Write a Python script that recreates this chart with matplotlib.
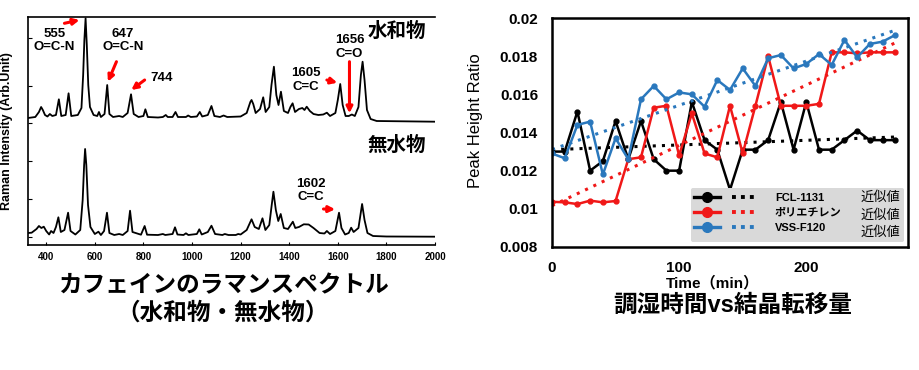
import numpy as np
import matplotlib.pyplot as plt
from matplotlib.lines import Line2D
from matplotlib.legend_handler import HandlerTuple

plt.rcParams['font.family'] = ['Liberation Sans', 'Noto Sans CJK JP', 'DejaVu Sans']

# Raman spectrum of caffeine hydrate (wavenumber / arb. intensity)
hyd_wn = [325, 355, 370, 379, 386, 395, 405, 415, 425, 440, 452, 462, 480, 492, 503, 530, 545,
          552, 557, 562, 567, 573, 580, 595, 610, 617, 625, 640, 651, 660, 675, 700, 715, 735,
          749, 760, 780, 800, 808, 818, 860, 880, 892, 900, 920, 932, 942, 975, 984, 995, 1020,
          1032, 1042, 1065, 1080, 1092, 1115, 1130, 1145, 1200, 1225, 1240, 1245, 1252, 1262,
          1280, 1293, 1303, 1318, 1327, 1337, 1347, 1356, 1366, 1378, 1395, 1405, 1414, 1424,
          1440, 1454, 1463, 1472, 1485, 1500, 1520, 1540, 1555, 1568, 1590, 1600, 1610, 1620,
          1632, 1645, 1658, 1670, 1685, 1695, 1702, 1710, 1720, 1735, 1760, 2000]
hyd_int = [127, 128, 133, 138, 135, 130, 128.5, 131, 129, 130, 145.7, 129, 130, 151.7, 129, 130,
           137, 170, 205, 226.7, 200, 160, 138, 130, 129, 133, 128, 131, 160, 131, 128, 129, 128,
           132, 150.7, 131, 128, 129, 135.7, 128, 127.5, 128, 130, 128, 128, 133, 128, 128,
           129.5, 128, 128.5, 133, 128.5, 130, 139, 129, 128, 129.5, 128, 128.5, 132, 143, 145,
           141, 132, 136, 147.7, 133, 138, 160, 178.3, 150, 140, 153.3, 134, 132, 138, 141.7,
           133, 136, 137, 135, 138.3, 134, 131, 130, 130.5, 132.3, 129, 132, 145, 161, 140, 129,
           129, 130.5, 129, 138, 170, 183.3, 165, 135, 126, 124, 123.3]

# Raman spectrum of anhydrous caffeine
anh_wn = [325, 340, 360, 370, 380, 390, 400, 412, 420, 430, 440, 450, 460, 475, 490, 500, 520,
          540, 550, 556, 560, 565, 572, 582, 600, 615, 625, 638, 650, 660, 680, 700, 715, 735,
          745, 755, 790, 805, 815, 860, 880, 890, 920, 930, 940, 965, 975, 985, 1020, 1030, 1040,
          1065, 1080, 1095, 1125, 1135, 1150, 1180, 1190, 1200, 1225, 1245, 1258, 1275, 1290,
          1302, 1318, 1328, 1335, 1345, 1355, 1365, 1378, 1395, 1415, 1425, 1440, 1460, 1480,
          1500, 1525, 1545, 1555, 1568, 1590, 1605, 1615, 1630, 1645, 1655, 1665, 1685, 1700,
          1710, 1722, 1745, 1800, 2000]
anh_int = [12, 12.3, 16, 19, 17, 18.3, 14, 10.5, 14, 12, 18, 27.7, 13, 15, 32.3, 14, 10.5, 15,
           45, 80, 96, 80, 40, 18, 11, 13.3, 10, 14, 32.3, 12, 10, 11, 10, 14, 34.3, 13, 10.3, 19,
           10.3, 10, 11, 10, 11, 17.7, 10.5, 10, 11.7, 10, 11, 15.7, 10.5, 13, 19.3, 11, 10, 11,
           10, 10, 11, 10.5, 15, 25.7, 18, 16, 26.7, 15, 20, 40, 53.3, 35, 24, 31, 17, 16, 23.3,
           17, 18, 20.7, 20.5, 17, 12, 11.5, 14, 11, 14, 32.3, 17, 10.5, 12, 17.3, 13, 17, 41, 25,
           12, 9, 8.5, 8.3]

# Peak height ratio vs humidity conditioning time
time_min = [0, 10, 20, 30, 40, 50, 60, 70, 80, 90, 100, 110, 120, 130, 140, 150, 160, 170, 180,
            190, 200, 210, 220, 230, 240, 250, 260, 270]
fcl = [0.0130, 0.0130, 0.0151, 0.0120, 0.0125, 0.0146, 0.0126, 0.0146, 0.0126, 0.0120, 0.0120,
       0.0156, 0.0136, 0.0131, 0.0110, 0.0131, 0.0131, 0.0136, 0.0156, 0.0131, 0.0156, 0.0131,
       0.0131, 0.0136, 0.0141, 0.0136, 0.0136, 0.0136]
pe = [0.01037, 0.01034, 0.01025, 0.01043, 0.01034, 0.01041, 0.0126, 0.0127, 0.0153, 0.0154,
      0.0128, 0.0150, 0.0129, 0.0127, 0.0154, 0.0129, 0.0154, 0.0180, 0.0154, 0.0154, 0.0154,
      0.0155, 0.0182, 0.0182, 0.01815, 0.0182, 0.0182, 0.0182]
vss = [0.0129, 0.01265, 0.0144, 0.01457, 0.0118, 0.0137, 0.0126, 0.01574, 0.01644, 0.01574,
       0.0161, 0.0160, 0.01535, 0.01675, 0.01623, 0.01736, 0.01644, 0.01789, 0.01806, 0.01736,
       0.01759, 0.01811, 0.01754, 0.01885, 0.01794, 0.01864, 0.01876, 0.01911]
names = ['FCL-1131', 'ポリエチレン', 'VSS-F120']
colors = ['#000000', '#f01818', '#2a78bd']

fig = plt.figure(figsize=(9.2, 3.7), dpi=100)

# ---------------- left: Raman spectra ----------------
ax1 = fig.add_axes([28 / 920, 1 - 245 / 370, 407 / 920, 228 / 370])
ax1.plot(hyd_wn, hyd_int, color='black', lw=1.3)
ax1.plot(anh_wn, anh_int, color='black', lw=1.3)
ax1.set_xlim(325, 2000)
ax1.set_ylim(0, 228)
ax1.spines['right'].set_visible(False)
for s in ['left', 'top', 'bottom']:
    ax1.spines[s].set_linewidth(1.2)
ax1.set_xticks(range(400, 2001, 200))
ax1.set_yticks([8, 46, 84, 122, 159, 207])
ax1.set_yticklabels([])
ax1.tick_params(axis='x', direction='in', length=2, pad=5, labelsize=7)
ax1.tick_params(axis='y', direction='in', length=3)
for lab in ax1.get_xticklabels():
    lab.set_fontweight('bold')

arrow = dict(arrowstyle='-|>', color='red', lw=2.2, mutation_scale=9, shrinkA=0, shrinkB=0)
ann_kw = dict(fontsize=9.5, fontweight='bold', ha='center', va='center', linespacing=1.15)
ax1.text(434, 204.5, '555\nO=C-N', **ann_kw)
ax1.annotate('', xy=(537, 225), xytext=(475, 221.7), arrowprops=arrow)
ax1.text(715, 204.5, '647\nO=C-N', **ann_kw)
ax1.annotate('', xy=(654, 163.3), xytext=(689, 183.3), arrowprops=arrow)
ax1.text(874, 167, '744', **ann_kw)
ax1.annotate('', xy=(750, 155), xytext=(805, 165), arrowprops=arrow)
ax1.text(1469, 165, '1605\nC=C', **ann_kw)
ax1.annotate('', xy=(1598, 162.3), xytext=(1555, 165), arrowprops=arrow)
ax1.text(1648, 198, '1656\nC=O', **ann_kw)
ax1.annotate('', xy=(1648, 131.7), xytext=(1648, 183.3), arrowprops=arrow)
ax1.text(1490, 54.5, '1602\nC=C', **ann_kw)
ax1.annotate('', xy=(1589, 35.7), xytext=(1541, 36), arrowprops=arrow)
ax1.text(1843, 213.3, '水和物', fontsize=14, fontweight='bold', ha='center', va='center')
ax1.text(1843, 100, '無水物', fontsize=14, fontweight='bold', ha='center', va='center')

fig.text(7 / 920, 1 - 131 / 370, 'Raman Intensity (Arb.Unit)', rotation=90, fontsize=9,
         fontweight='bold', ha='center', va='center')
fig.text(223 / 920, 1 - 286 / 370, 'カフェインのラマンスペクトル', fontsize=17,
         fontweight='bold', ha='center', va='center')
fig.text(223 / 920, 1 - 313 / 370, '（水和物・無水物）', fontsize=17,
         fontweight='bold', ha='center', va='center')

# ---------------- right: peak height ratio ----------------
ax2 = fig.add_axes([552 / 920, 1 - 247 / 370, 356 / 920, 229 / 370])
t = np.array(time_min)
pairs = []
for ys, c in zip([fcl, pe, vss], colors):
    ax2.plot(t, ys, color=c, lw=1.8, marker='o', ms=3.5)
    k, b = np.polyfit(t, ys, 1)
    ax2.plot(t[[0, -1]], k * t[[0, -1]] + b, color=c, lw=2.2, linestyle=(0, (1, 2)))
    pairs.append((Line2D([], [], color=c, lw=2.4, marker='o', ms=7),
                  Line2D([], [], color=c, lw=2.8, linestyle=(0, (1, 1.3)))))
ax2.set_xlim(0, 280)
ax2.set_ylim(0.008, 0.02)
ax2.set_xticks([0, 100, 200])
ax2.set_yticks([0.008, 0.01, 0.012, 0.014, 0.016, 0.018, 0.02])
ax2.set_yticklabels(['0.008', '0.01', '0.012', '0.014', '0.016', '0.018', '0.02'])
ax2.tick_params(length=0, labelsize=11, pad=10)
for lab in ax2.get_xticklabels() + ax2.get_yticklabels():
    lab.set_fontweight('bold')
for s in ax2.spines.values():
    s.set_linewidth(1.8)

blank = [Line2D([], [], color='none')] * 3
leg = ax2.legend(pairs + blank, names + ['近似値'] * 3,
                 handler_map={tuple: HandlerTuple(ndivide=None, pad=1.1)},
                 ncol=2, loc='lower right', bbox_to_anchor=(0.988, 0.02),
                 prop={'size': 8, 'weight': 'bold'}, handlelength=5.8,
                 handletextpad=1.5, columnspacing=-5.6, labelspacing=0.45,
                 facecolor='#d9d9d9', edgecolor='none', framealpha=1, fancybox=True,
                 borderpad=0.3, borderaxespad=0)
for txt in leg.get_texts()[3:]:
    txt.set_fontsize(9.5)
    txt.set_fontweight('normal')

fig.text(476 / 920, 1 - 121 / 370, 'Peak Height Ratio', rotation=90, fontsize=12,
         ha='center', va='center')
fig.text(713 / 920, 1 - 283 / 370, 'Time（min）', fontsize=11, fontweight='bold',
         ha='center', va='center')
fig.text(733 / 920, 1 - 305 / 370, '調湿時間vs結晶転移量', fontsize=17, fontweight='bold',
         ha='center', va='center')

fig.savefig('out.png', dpi=100)
